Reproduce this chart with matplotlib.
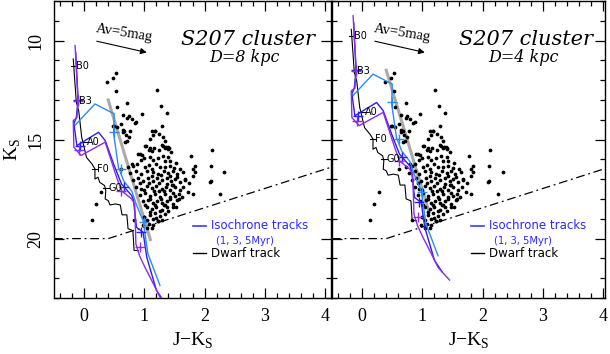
"""
S207 cluster CMD: Ks vs J-Ks for two assumed distances.
"""
import numpy as np
import matplotlib
matplotlib.use('Agg')
import matplotlib.pyplot as plt
from matplotlib.ticker import MultipleLocator

# observed stars (J-Ks, Ks)
jk_obs = [0.375, 0.485, 0.53, 0.53, 1.21, 0.72, 0.54, 1.275, 0.955, 1.38,
          0.64, 0.75, 0.72, 0.79, 0.87, 0.85, 0.62, 1.30, 0.50, 0.55,
          0.64, 0.67, 0.77, 0.70, 0.75, 0.68, 1.12, 1.17, 1.15, 1.25,
          1.31, 1.10, 1.34, 1.31, 1.385, 1.41, 1.35, 1.02, 1.16, 1.08,
          2.13, 1.01, 1.10, 1.29, 1.36, 1.40, 0.93, 1.09, 0.94, 1.15,
          1.31, 1.40, 1.42, 0.82, 0.73, 0.88, 1.01, 1.08, 1.20, 1.26,
          1.34, 1.42, 1.52, 1.80, 2.11, 0.77, 0.87, 0.95, 1.04, 1.14,
          1.23, 1.32, 1.40, 1.47, 1.54, 1.64, 1.84, 0.82, 0.90, 0.98,
          1.06, 1.15, 1.21, 1.30, 1.37, 1.45, 1.51, 1.59, 1.74, 1.80,
          0.87, 0.95, 1.04, 1.12, 1.20, 1.29, 1.36, 1.43, 1.51, 1.59,
          1.73, 0.93, 1.01, 1.09, 1.18, 1.26, 1.34, 1.42, 1.51, 1.63,
          2.09, 0.98, 1.06, 1.14, 1.21, 1.30, 1.38, 1.47, 1.04, 1.12,
          1.20, 1.29, 1.37, 1.53, 1.09, 1.18, 1.26, 1.34, 1.04, 1.14,
          1.23, 1.08, 1.15, 1.04, 0.19, 0.13, 0.28, 0.83, 2.10, 2.25,
          2.33, 1.81, 1.84, 1.78, 0.485, 0.65, 0.71, 0.90, 0.96, 1.12,
          1.18, 0.61, 0.79, 1.25, 1.33, 1.46, 1.68, 1.57, 1.00, 1.22,
          1.13, 1.25, 1.45, 1.00, 1.22, 1.35, 1.50, 1.60, 1.12, 1.27,
          1.42, 1.55, 1.67, 0.93, 1.08, 1.25, 1.38, 1.48, 1.65, 1.00,
          1.16, 1.33, 1.47, 1.58, 1.10, 1.27, 1.42, 1.55, 1.01, 1.18,
          1.34, 1.48, 1.10, 1.26, 1.40, 1.00, 1.20, 1.30, 0.97, 1.12]
ks_obs = [12.07, 11.90, 11.63, 12.53, 12.47, 13.13, 13.33, 13.30, 13.69, 13.67,
          13.75, 13.80, 13.92, 13.97, 14.09, 14.18, 14.21, 14.29, 14.31, 14.38,
          14.51, 14.55, 14.58, 14.78, 14.88, 15.13, 14.58, 14.58, 14.75, 14.71,
          14.85, 14.98, 15.05, 15.30, 15.39, 15.42, 15.44, 15.34, 15.44, 15.52,
          15.52, 15.30, 15.42, 15.25, 15.35, 15.45, 15.72, 15.86, 16.03, 16.01,
          15.81, 15.86, 16.06, 16.31, 16.36, 16.23, 16.40, 16.26, 16.23, 16.36,
          16.40, 16.31, 16.20, 16.48, 16.31, 16.70, 16.60, 16.73, 16.60, 16.65,
          16.73, 16.60, 16.70, 16.60, 16.73, 16.65, 16.65, 17.04, 16.94, 17.11,
          16.96, 17.07, 16.94, 17.04, 16.94, 17.11, 16.99, 17.16, 17.21, 16.82,
          17.37, 17.49, 17.32, 17.44, 17.32, 17.49, 17.37, 17.54, 17.41, 17.54,
          17.66, 17.78, 17.71, 17.83, 17.74, 17.88, 17.74, 17.91, 17.83, 17.91,
          17.16, 18.12, 18.05, 18.22, 18.08, 18.22, 18.12, 18.25, 18.42, 18.50,
          18.42, 18.55, 18.42, 18.42, 18.79, 18.72, 18.84, 18.75, 19.06, 19.00,
          19.09, 19.26, 19.29, 19.46, 18.25, 19.04, 17.66, 19.06, 17.07, 17.74,
          16.65, 17.74, 16.35, 15.81, 14.29, 14.63, 15.05, 15.72, 15.80, 16.48,
          14.55, 16.48, 16.23, 17.62, 18.32, 17.28, 17.05, 18.02, 18.92, 19.12,
          15.60, 15.55, 15.65, 15.95, 15.95, 16.10, 16.45, 16.50, 16.85, 16.80,
          16.85, 16.90, 17.00, 17.20, 17.20, 17.20, 17.25, 17.30, 17.40, 17.55,
          17.60, 17.60, 17.70, 17.75, 18.00, 17.98, 18.00, 18.05, 18.30, 18.30,
          18.30, 18.40, 18.65, 18.60, 18.60, 18.90, 18.95, 19.05, 19.30, 19.45]

# tracks as seen for D = 8 kpc
purple_jk = [-0.15, -0.10, -0.12, -0.18, -0.17, -0.05, 0.35, 0.54, 0.62, 0.79,
             0.84, 0.86, 0.92, 1.01, 1.12, 1.26, 1.45]
purple_ks = [10.25, 13.03, 13.90, 14.04, 15.39, 15.80, 15.13, 16.90, 17.58, 18.00,
             18.25, 20.27, 20.86, 21.45, 22.10, 22.96, 23.60]
purple_mk_jk = [-0.10, -0.08, 0.62, 0.93]
purple_mk_ks = [13.03, 15.55, 17.60, 20.40]

dblue_jk = [-0.14, -0.10, -0.13, -0.17, -0.12, 0.24, 0.35, 0.49, 0.62, 0.79,
            0.82, 0.87, 0.98, 1.04, 1.20, 1.33]
dblue_ks = [10.60, 13.00, 13.90, 14.20, 15.30, 14.63, 15.05, 16.23, 17.24, 17.83,
            18.08, 19.43, 19.68, 20.94, 22.60, 23.20]
dblue_mk_jk = [-0.10, -0.07, 0.66, 0.95]
dblue_mk_ks = [13.00, 15.30, 17.37, 19.65]

lblue_jk = [-0.17, 0.18, 0.50, 0.49, 0.57, 0.66, 0.79, 0.87, 0.93, 0.98,
            1.06, 1.26]
lblue_ks = [14.34, 13.20, 13.70, 14.70, 16.40, 17.10, 17.60, 18.30, 18.75, 19.10,
            20.77, 22.37]
lblue_mk_jk = [0.50, 0.62, 0.99]
lblue_mk_ks = [14.60, 16.48, 19.17]

dwarf_jk = [-0.18, -0.13, -0.09, -0.04, 0.00, 0.04, 0.13, 0.18, 0.18, 0.23,
            0.26, 0.34, 0.36, 0.35, 0.40, 0.43, 0.52, 0.60, 0.63, 0.71,
            0.73, 0.81, 0.83, 0.90]
dwarf_ks = [10.93, 13.10, 13.54, 14.88, 15.39, 15.90, 16.23, 16.48, 16.99, 16.90,
            17.16, 17.32, 17.58, 18.00, 18.08, 18.30, 18.25, 18.30, 18.80, 18.80,
            19.50, 19.60, 20.60, 20.60]
sp_types = ['B0', 'B3', 'A0', 'F0', 'G0']
sp_jk = [-0.17, -0.12, 0.00, 0.18, 0.36]
sp_ks = [11.26, 13.03, 15.10, 16.46, 17.46]

# reddening vector of the most massive star and detection limit
gray_jk = [0.40, 1.10]
gray_ks = [13.00, 20.05]
limit_jk = [-0.5, 0.40, 4.2]
limit_ks = [20.0, 20.0, 16.3]

distances = [8, 4]


def plot_panel(ax, dist, show_ylabels):
    dm = 5 * np.log10(dist / 8.0)

    ax.plot(limit_jk, limit_ks, color='k', lw=0.9, ls=(0, (7, 3, 1.5, 3)))
    ax.plot(gray_jk, np.array(gray_ks) + dm, color='#aaaaaa', lw=2.2, zorder=2)
    ax.plot(jk_obs, ks_obs, 'o', color='k', ms=2.7, mew=0, zorder=3)

    ax.plot(dwarf_jk, np.array(dwarf_ks) + dm, color='k', lw=0.8, zorder=4)
    for sp, x, y in zip(sp_types, sp_jk, sp_ks):
        ax.plot([x - 0.05, x + 0.05], [y + dm, y + dm], color='k', lw=0.8, zorder=4)
        ax.text(x + 0.04, y + dm, sp, fontsize=7, family='DejaVu Sans',
                va='center', ha='left', zorder=6)

    tracks = [(lblue_jk, lblue_ks, lblue_mk_jk, lblue_mk_ks, '#2b8cf0'),
              (dblue_jk, dblue_ks, dblue_mk_jk, dblue_mk_ks, '#2a1fe6'),
              (purple_jk, purple_ks, purple_mk_jk, purple_mk_ks, '#8c2bf0')]
    for tx, ty, mx, my, col in tracks:
        ax.plot(tx, np.array(ty) + dm, color=col, lw=1.0, zorder=5)
        ax.plot(mx, np.array(my) + dm, '+', color=col, ms=6.5, mew=1.0, zorder=5)

    # reddening arrow
    ax.annotate('', xy=(1.04, 10.60), xytext=(0.21, 10.03),
                arrowprops=dict(arrowstyle='-|>', color='k', lw=0.8,
                                mutation_scale=9, shrinkA=0, shrinkB=0))
    ax.text(0.66, 9.6, 'Av=5mag', fontsize=10.5, family='Liberation Serif',
            rotation=-9, ha='center', va='center')

    ax.text(2.72, 9.95, 'S207 cluster', fontsize=15, family='DejaVu Serif',
            style='italic', ha='center', va='center')
    ax.text(2.67, 10.85, 'D=%d kpc' % dist, fontsize=11.5,
            family='DejaVu Serif', style='italic', ha='center', va='center')

    # legend
    ax.plot([1.81, 2.03], [19.34, 19.34], color='#3a3aff', lw=1.2)
    ax.text(2.11, 19.34, 'Isochrone tracks', color='#2a2aff', fontsize=8.5,
            family='DejaVu Sans', va='center', ha='left')
    ax.text(2.19, 20.1, '(1, 3, 5Myr)', color='#2a2aff', fontsize=7.2,
            family='DejaVu Sans', va='center', ha='left')
    ax.plot([1.81, 2.03], [20.74, 20.74], color='k', lw=1.0)
    ax.text(2.11, 20.74, 'Dwarf track', color='k', fontsize=8.5,
            family='DejaVu Sans', va='center', ha='left')

    ax.set_xlim(-0.5, 4.1)
    ax.set_ylim(23, 8)
    ax.xaxis.set_major_locator(MultipleLocator(1))
    ax.xaxis.set_minor_locator(MultipleLocator(0.2))
    ax.yaxis.set_major_locator(MultipleLocator(5))
    ax.yaxis.set_minor_locator(MultipleLocator(1))
    ax.tick_params(which='both', direction='in', top=True, right=True,
                   width=0.9)
    ax.tick_params(which='major', length=7)
    ax.tick_params(which='minor', length=3.5)
    ax.tick_params(axis='x', labelsize=13, pad=7)
    ax.tick_params(axis='y', labelsize=13, pad=7)
    for lab in ax.get_xticklabels() + ax.get_yticklabels():
        lab.set_family('Liberation Serif')
    for lab in ax.get_yticklabels():
        lab.set_rotation(90)
        lab.set_va('center')
    if not show_ylabels:
        ax.set_yticklabels([])
    ax.set_xlabel(r'J$-$K$_{\mathregular{S}}$', fontsize=14,
                  family='Liberation Serif', labelpad=4)
    for sp in ax.spines.values():
        sp.set_linewidth(1.0)


def main():
    plt.rcParams['mathtext.fontset'] = 'custom'
    plt.rcParams['mathtext.rm'] = 'Liberation Serif'
    fig = plt.figure(figsize=(6.1, 3.54), dpi=100)
    ax1 = fig.add_axes([54 / 610, 56 / 354, 277 / 610, 297 / 354])
    ax2 = fig.add_axes([332 / 610, 56 / 354, 273 / 610, 297 / 354])

    plot_panel(ax1, distances[0], True)
    plot_panel(ax2, distances[1], False)
    ax2.set_xlim(-0.5, 4.03)

    ax1.set_ylabel(r'K$_{\mathregular{S}}$', fontsize=14,
                   family='Liberation Serif', labelpad=3)

    fig.savefig('out.png', dpi=100)


if __name__ == '__main__':
    main()
